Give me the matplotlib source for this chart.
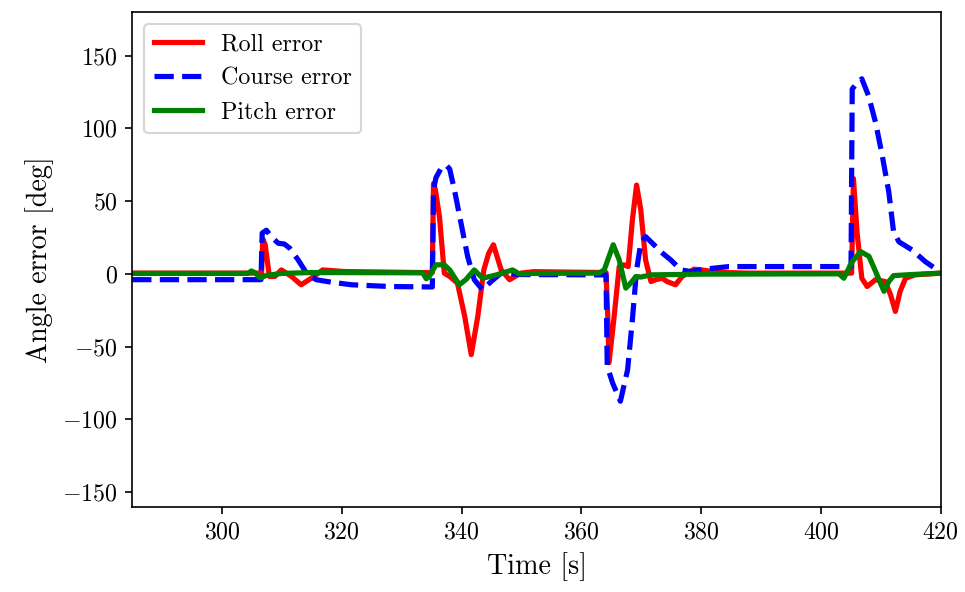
import matplotlib
matplotlib.use("Agg")
import matplotlib.pyplot as plt

# time stamps and errors
t_roll = [285, 306.6, 306.8, 307.2, 307.9, 308.8, 309.9, 311.6, 313.2, 314.9, 316.8,
          320.4, 335.1, 335.3, 335.6, 336.3, 337.1, 338.0, 339.3, 340.5, 341.6, 342.7,
          343.7, 344.5, 345.3, 346.6, 348.0, 349.9, 352, 364.1, 364.4, 364.6, 365.4,
          366.3, 367.1, 367.8, 368.5, 369.2, 369.9, 370.7, 371.6, 372.4, 373.5, 374.3,
          375.7, 376.8, 378.8, 380, 383, 388, 405.1, 405.4, 406.0, 406.8, 407.7, 409.1,
          410.7, 411.6, 412.4, 413.2, 414.1, 415.7, 420]
roll_err = [0.5, 0.5, 24, 20, -1.8, -1.8, 2.7, -1.8, -7.5, -3, 2.7,
            1.6, 0.8, 62, 58, 39, 0.5, -1.8, -6.4, -29, -55.5, -29,
            2.7, 14, 20, 2.7, -4, 0.5, 1.5, 0.9, -30, -61, -31.5,
            5, 6.2, 5, 37, 61, 44, 9.6, -5.3, -4, -3, -5.3,
            -7.5, -1.8, 3.2, 2.7, 1, 0.5, 0.5, 65.5, 29, -3, -8.7, -4,
            -5.3, -14.4, -25.8, -12, -3, -0.7, 0.5]

t_course = [285, 306.5, 306.7, 307.4, 308.3, 309.4, 310.4, 311.3, 312.7, 314.1, 315.7,
            318.2, 321.6, 328, 335.1, 335.3, 335.7, 336.5, 337.4, 338.0, 338.8, 339.9,
            341.0, 342.1, 343.5, 344.9, 346.6, 350, 364.1, 364.3, 365.2, 366.5, 367.7,
            368.5, 369.2, 369.9, 370.7, 372.1, 373.2, 374.9, 376.6, 378.2, 380.5, 384.6,
            405.0, 405.2, 406.0, 406.8, 407.9, 409.1, 410.2, 411.3, 412.1, 413.0, 415.2,
            417.4, 420]
course_err = [-4, -4, 28, 30, 25, 21, 20.5, 17.6, 9.6, 0.5, -4,
              -5.7, -7.5, -8.7, -9, 57.5, 66, 72, 74.7, 72, 57.5, 34.7,
              11.9, -4, -11, -5.3, 0.5, -0.5, -0.7, -63.5, -75, -87.5, -66,
              -31.5, 2.7, 21, 25.6, 20, 15.3, 9.6, 2.7, 1.6, 3.2, 5,
              5, 127, 131, 134, 122.6, 104, 81.5, 56.4, 29, 22, 16.4,
              8.4, 1]

t_pitch = [285, 304.3, 304.9, 305.6, 306.3, 307.5, 310, 315, 333.5, 334.1, 334.6,
           335.7, 337.1, 338.0, 339.6, 340.7, 342.1, 343.5, 345.8, 348.5, 349.6, 352,
           362.9, 363.8, 365.3, 366.3, 367.4, 368.2, 369.1, 369.9, 371.6, 380, 403.0,
           403.8, 405.2, 406.6, 408.0, 409.1, 410.5, 411.3, 412.1, 415, 420]
pitch_err = [0.3, 0.3, 2, 0.5, -2.7, -1, 0.3, 0.9, 0.7, -3.4, -1.8,
             6.2, 6.2, 2.7, -7.5, -4, 2.7, -3, -0.7, 2.7, 0, 0.3,
             0.5, 2.7, 20, 9.6, -9.8, -6.4, -1.8, -2.2, -0.7, -0.2, 0,
             -3, 8.4, 15.3, 12, 1.6, -12, -5.3, -1.2, -0.5, 0.5]

plt.rcParams.update({
    'font.family': 'serif',
    'font.serif': ['cmr10'],
    'mathtext.fontset': 'cm',
    'axes.formatter.use_mathtext': True,
    'font.size': 11.5,
})

fig = plt.figure(figsize=(9.65 / 1.5, 5.92 / 1.5), dpi=150)
ax = fig.add_axes([0.137, 0.144, 0.838, 0.836])

ax.plot(t_roll, roll_err, color='red', linestyle='-', linewidth=2.5, label='Roll error')
ax.plot(t_course, course_err, color='blue', linestyle='--', linewidth=2.5, label='Course error')
ax.plot(t_pitch, pitch_err, color='green', linestyle='-', linewidth=2.5, label='Pitch error')

ax.set_xlim(285, 420)
ax.set_ylim(-160, 180)
ax.set_xticks([300, 320, 340, 360, 380, 400, 420])
ax.set_yticks([-150, -100, -50, 0, 50, 100, 150])
ax.set_xlabel('Time [s]', fontsize=13.5)
ax.set_ylabel('Angle error [deg]', fontsize=13.5)
ax.legend(loc='upper left')

fig.savefig('out.png', dpi=150)
